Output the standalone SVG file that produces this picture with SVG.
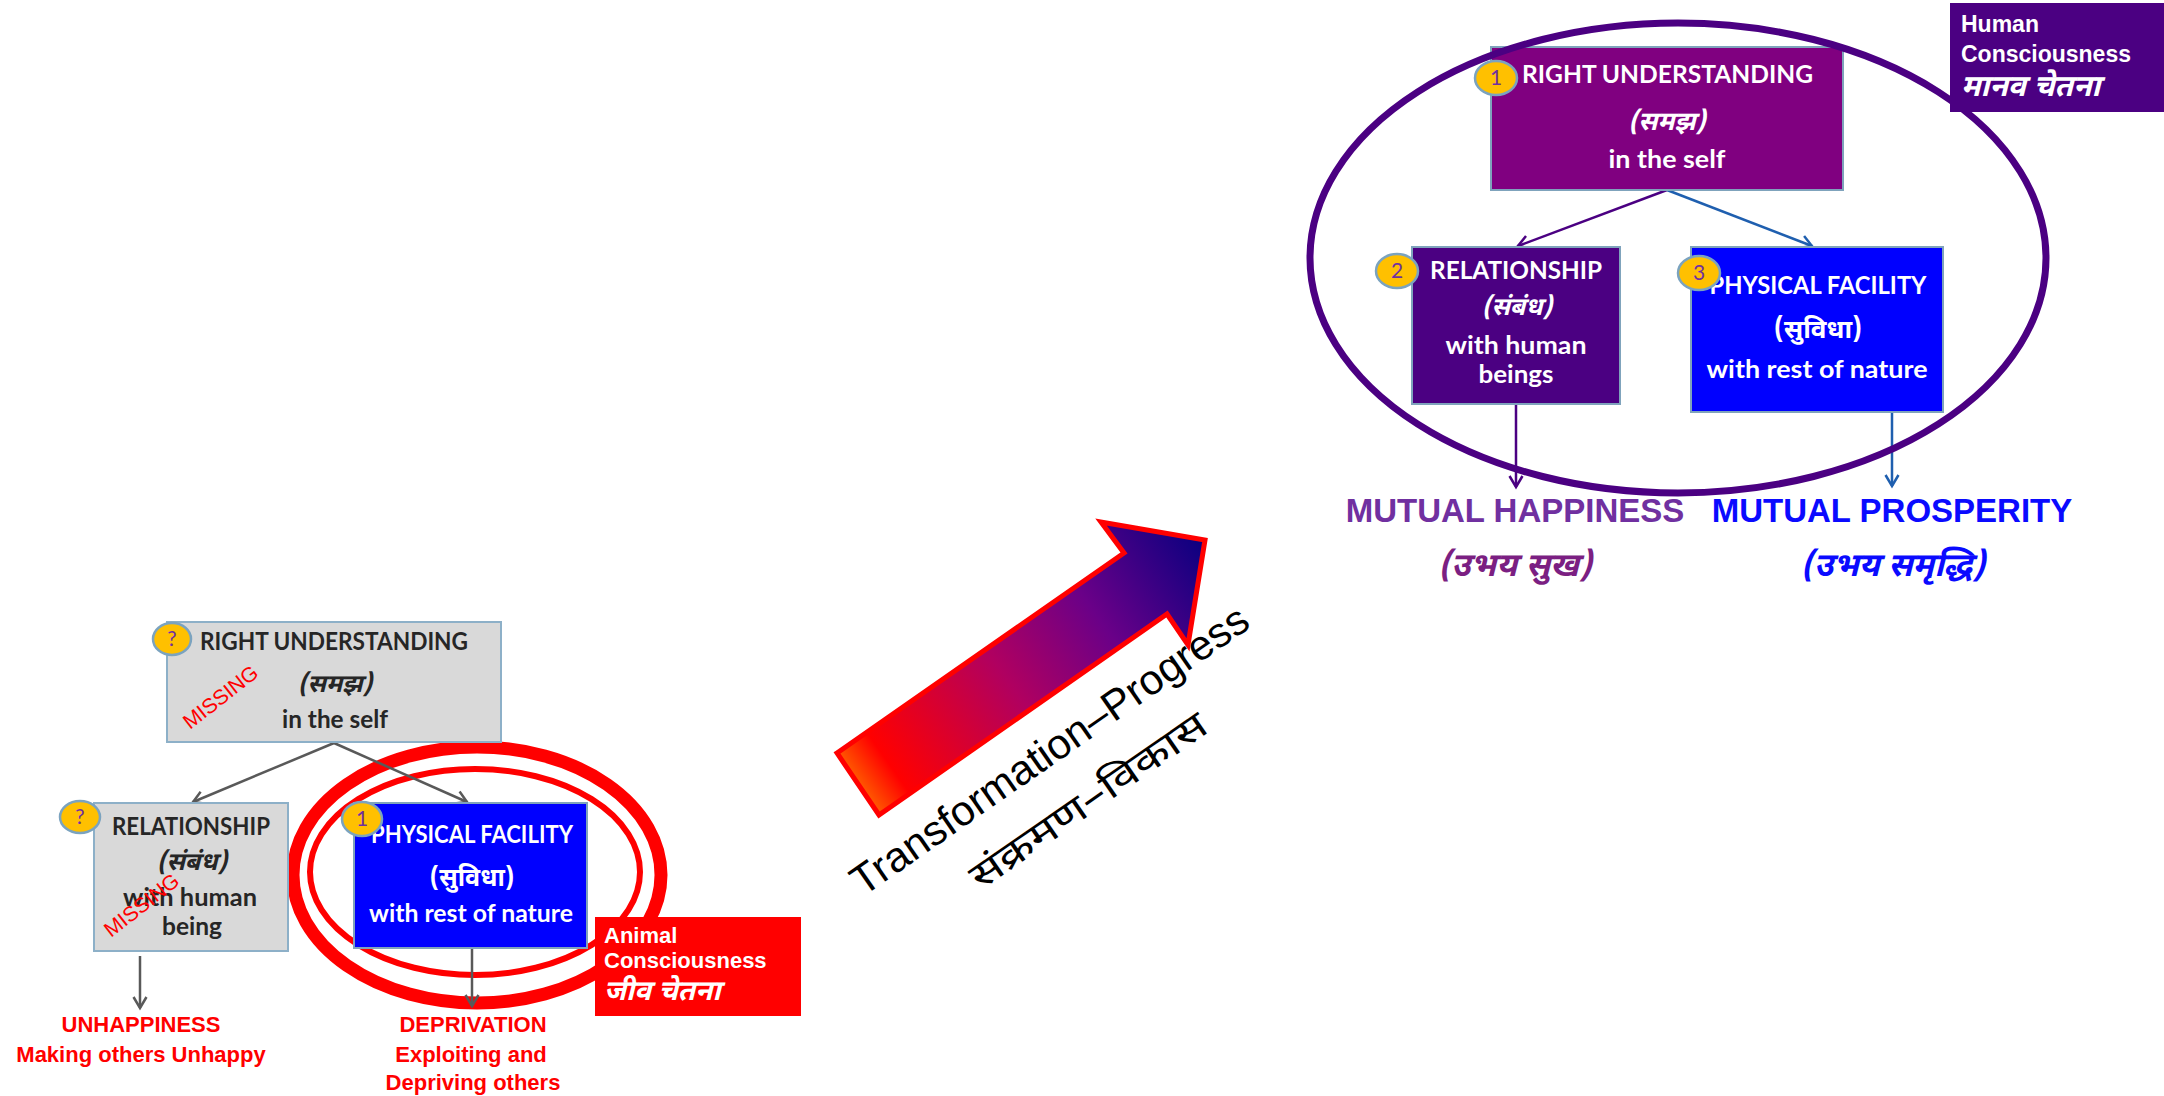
<svg xmlns="http://www.w3.org/2000/svg" width="2164" height="1096" viewBox="0 0 2164 1096">
  <defs>
    <style>
      .cal { font-family: Lato, "Open Sans", "Noto Sans", sans-serif; font-weight: 700; text-anchor: middle; }
      .dev { font-family: "Noto Sans Devanagari", "Noto Sans", "Lohit Devanagari", sans-serif; font-weight: 700; text-anchor: middle; }
      .ital { font-style: italic; }
      .ari { font-family: "Liberation Sans", Arial, sans-serif; font-weight: 700; }
      .dark { fill: #262626; }
      .white { fill: #FFFFFF; }
      .grey-box { fill: #D9D9D9; stroke: #8DB0C8; stroke-width: 2; }
      .edge { stroke: #7FA3BC; stroke-width: 2; }
      .badge ellipse { fill: #FFC000; stroke: #7BA3BF; stroke-width: 2.5; }
      .badge text { font-family: Lato, "Open Sans", sans-serif; font-size: 21px; fill: #7030A0; text-anchor: middle; }
      .missing { font-family: "Liberation Sans", Arial, sans-serif; font-size: 21px; fill: #FF0000; }
      .conn-grey { stroke: #595959; stroke-width: 2.5; fill: none; }
      .conn-purple { stroke: #4B0082; stroke-width: 2.5; fill: none; }
      .conn-blue { stroke: #1F5FAF; stroke-width: 2.5; fill: none; }
      .red-out { font-family: "Liberation Sans", Arial, sans-serif; font-weight: 700; font-size: 22px; fill: #FF0000; text-anchor: middle; }
    </style>
    <marker id="arr-grey" markerUnits="userSpaceOnUse" markerWidth="16" markerHeight="16" viewBox="0 0 16 16" refX="13" refY="8" orient="auto">
      <path d="M2,1.5 L13,8 L2,14.5" fill="none" stroke="#595959" stroke-width="2.5"/>
    </marker>
    <marker id="arr-purple" markerUnits="userSpaceOnUse" markerWidth="16" markerHeight="16" viewBox="0 0 16 16" refX="13" refY="8" orient="auto">
      <path d="M2,1.5 L13,8 L2,14.5" fill="none" stroke="#4B0082" stroke-width="2.5"/>
    </marker>
    <marker id="arr-blue" markerUnits="userSpaceOnUse" markerWidth="16" markerHeight="16" viewBox="0 0 16 16" refX="13" refY="8" orient="auto">
      <path d="M2,1.5 L13,8 L2,14.5" fill="none" stroke="#1F5FAF" stroke-width="2.5"/>
    </marker>
    <linearGradient id="progress-grad" gradientUnits="userSpaceOnUse" x1="845" y1="793" x2="1205" y2="540">
      <stop offset="0" stop-color="#FF8000"/>
      <stop offset="0.12" stop-color="#FF0000"/>
      <stop offset="0.45" stop-color="#B00060"/>
      <stop offset="0.7" stop-color="#6A0088"/>
      <stop offset="1" stop-color="#0A0080"/>
    </linearGradient>
  </defs>

  <rect width="2164" height="1096" fill="#FFFFFF"/>

  <!-- Animal consciousness rings around physical facility -->
  <g id="animal-rings" fill="none" stroke="#FF0000">
    <ellipse cx="477" cy="875" rx="184" ry="128" stroke-width="13"/>
    <ellipse cx="475" cy="872" rx="165" ry="103" stroke-width="6"/>
  </g>

  <!-- Connectors -->
  <g id="connectors">
    <line class="conn-grey" x1="334" y1="743" x2="193" y2="802" marker-end="url(#arr-grey)"/>
    <line class="conn-grey" x1="334" y1="743" x2="467" y2="802" marker-end="url(#arr-grey)"/>
    <line class="conn-grey" x1="140" y1="956" x2="140" y2="1008" marker-end="url(#arr-grey)"/>
    <line class="conn-grey" x1="472" y1="948" x2="472" y2="1006" marker-end="url(#arr-grey)"/>
    <line class="conn-purple" x1="1667" y1="190" x2="1518" y2="246" marker-end="url(#arr-purple)"/>
    <line class="conn-blue" x1="1667" y1="190" x2="1812" y2="246" marker-end="url(#arr-blue)"/>
    <line class="conn-purple" x1="1516" y1="404" x2="1516" y2="487" marker-end="url(#arr-purple)"/>
    <line class="conn-blue" x1="1892" y1="412" x2="1892" y2="486" marker-end="url(#arr-blue)"/>
  </g>

  <!-- Left: right understanding (missing) -->
  <g id="left-understanding">
    <rect class="grey-box" x="167" y="622" width="334" height="120"/>
    <text class="cal dark" x="200" y="650" font-size="24" textLength="268" lengthAdjust="spacingAndGlyphs" style="text-anchor:start">RIGHT UNDERSTANDING</text>
    <text class="dev ital dark" x="335" y="692" font-size="25">(समझ)</text>
    <text class="cal dark" x="335" y="728" font-size="24" textLength="106" lengthAdjust="spacingAndGlyphs">in the self</text>
    <g class="badge"><ellipse cx="172" cy="639" rx="19" ry="16"/><text x="172" y="646">?</text></g>
    <text class="missing" transform="translate(190,730) rotate(-38)">MISSING</text>
  </g>

  <!-- Left: relationship (missing) -->
  <g id="left-relationship">
    <rect class="grey-box" x="94" y="803" width="194" height="148"/>
    <text class="cal dark" x="191" y="835" font-size="24" textLength="158" lengthAdjust="spacingAndGlyphs">RELATIONSHIP</text>
    <text class="dev ital dark" x="192" y="870" font-size="25">(संबंध)</text>
    <text class="cal dark" x="190" y="906" font-size="24" textLength="134" lengthAdjust="spacingAndGlyphs">with human</text>
    <text class="cal dark" x="192" y="935" font-size="24" textLength="60" lengthAdjust="spacingAndGlyphs">being</text>
    <g class="badge"><ellipse cx="80" cy="817" rx="20" ry="16"/><text x="80" y="824">?</text></g>
    <text class="missing" transform="translate(111,938) rotate(-38)">MISSING</text>
  </g>

  <!-- Left: physical facility -->
  <g id="left-facility">
    <rect x="354" y="803" width="233" height="145" fill="#0000FF" class="edge"/>
    <text class="cal white" x="472" y="843" font-size="24" textLength="202" lengthAdjust="spacingAndGlyphs">PHYSICAL FACILITY</text>
    <text class="dev white" x="472" y="886" font-size="25">(सुविधा)</text>
    <text class="cal white" x="471" y="922" font-size="24" textLength="204" lengthAdjust="spacingAndGlyphs">with rest of nature</text>
    <g class="badge"><ellipse cx="362" cy="819" rx="20" ry="17"/><text x="362" y="826">1</text></g>
  </g>

  <!-- Left outcomes -->
  <g id="left-unhappiness">
    <text class="red-out" x="141" y="1032">UNHAPPINESS</text>
    <text class="red-out" x="141" y="1062">Making others Unhappy</text>
  </g>
  <g id="left-deprivation">
    <text class="red-out" x="473" y="1032">DEPRIVATION</text>
    <text class="red-out" x="471" y="1062">Exploiting and</text>
    <text class="red-out" x="473" y="1090">Depriving others</text>
  </g>

  <!-- Animal consciousness label -->
  <g id="animal-label">
    <rect x="595" y="917" width="206" height="99" fill="#FF0000"/>
    <text class="ari white" x="604" y="943" font-size="22">Animal</text>
    <text class="ari white" x="604" y="968" font-size="22">Consciousness</text>
    <text class="dev ital white" x="604" y="1000" font-size="28" style="text-anchor:start">जीव  चेतना</text>
  </g>

  <!-- Transformation arrow -->
  <g id="progress-arrow">
    <polygon points="837,753 1124,553 1101,522 1205,540 1188,645 1167,614 879,815" fill="url(#progress-grad)" stroke="#FF0000" stroke-width="5" stroke-linejoin="miter"/>
    <g transform="translate(863,897) rotate(-34.8)">
      <text x="0" y="0" font-family="'Liberation Sans', Arial, sans-serif" font-size="42" fill="#000000" textLength="474" lengthAdjust="spacingAndGlyphs">Transformation–Progress</text>
      <text x="100" y="62" font-family="'Noto Sans Devanagari', 'Noto Sans', sans-serif" font-size="37" font-weight="400" fill="#000000" textLength="280" lengthAdjust="spacingAndGlyphs">संक्रमण–विकास</text>
    </g>
  </g>

  <!-- Right: right understanding -->
  <g id="right-understanding">
    <rect x="1491" y="47" width="352" height="143" fill="#800080" class="edge"/>
    <text class="cal white" x="1522" y="83" font-size="24" textLength="291" lengthAdjust="spacingAndGlyphs" style="text-anchor:start">RIGHT UNDERSTANDING</text>
    <text class="dev ital white" x="1667" y="130" font-size="26">(समझ)</text>
    <text class="cal white" x="1667" y="168" font-size="25" textLength="117" lengthAdjust="spacingAndGlyphs">in the self</text>
    <g class="badge"><ellipse cx="1496" cy="78" rx="21" ry="17"/><text x="1496" y="85">1</text></g>
  </g>

  <!-- Right: relationship -->
  <g id="right-relationship">
    <rect x="1412" y="247" width="208" height="157" fill="#4B0082" class="edge"/>
    <text class="cal white" x="1516" y="279" font-size="24" textLength="172" lengthAdjust="spacingAndGlyphs">RELATIONSHIP</text>
    <text class="dev ital white" x="1517" y="315" font-size="25">(संबंध)</text>
    <text class="cal white" x="1516" y="354" font-size="24" textLength="141" lengthAdjust="spacingAndGlyphs">with human</text>
    <text class="cal white" x="1516" y="383" font-size="24" textLength="75" lengthAdjust="spacingAndGlyphs">beings</text>
    <g class="badge"><ellipse cx="1397" cy="271" rx="21" ry="17"/><text x="1397" y="278">2</text></g>
  </g>

  <!-- Right: physical facility -->
  <g id="right-facility">
    <rect x="1691" y="247" width="252" height="165" fill="#0000FF" class="edge"/>
    <text class="cal white" x="1818" y="294" font-size="24" textLength="217" lengthAdjust="spacingAndGlyphs">PHYSICAL FACILITY</text>
    <text class="dev white" x="1818" y="338" font-size="26">(सुविधा)</text>
    <text class="cal white" x="1817" y="378" font-size="24" textLength="221" lengthAdjust="spacingAndGlyphs">with rest of nature</text>
    <g class="badge"><ellipse cx="1699" cy="273" rx="21" ry="17"/><text x="1699" y="280">3</text></g>
  </g>

  <!-- Human consciousness ring -->
  <ellipse id="human-ring" cx="1678" cy="258" rx="368" ry="235" fill="none" stroke="#4B0082" stroke-width="7"/>

  <!-- Human consciousness label -->
  <g id="human-label">
    <rect x="1950" y="3" width="214" height="109" fill="#4B0082"/>
    <text class="ari white" x="1961" y="32" font-size="23">Human</text>
    <text class="ari white" x="1961" y="62" font-size="23">Consciousness</text>
    <text class="dev ital white" x="1961" y="96" font-size="30" style="text-anchor:start">मानव  चेतना</text>
  </g>

  <!-- Right outcomes -->
  <g id="mutual-happiness">
    <text class="ari" x="1515" y="522" font-size="33" fill="#7030A0" text-anchor="middle">MUTUAL HAPPINESS</text>
    <text class="dev ital" x="1515" y="576" font-size="33" fill="#7B1F82">(उभय  सुख)</text>
  </g>
  <g id="mutual-prosperity">
    <text class="ari" x="1892" y="522" font-size="33" fill="#0A0AFF" text-anchor="middle">MUTUAL PROSPERITY</text>
    <text class="dev ital" x="1893" y="576" font-size="33" fill="#0A0AFF">(उभय  समृद्धि)</text>
  </g>
</svg>
